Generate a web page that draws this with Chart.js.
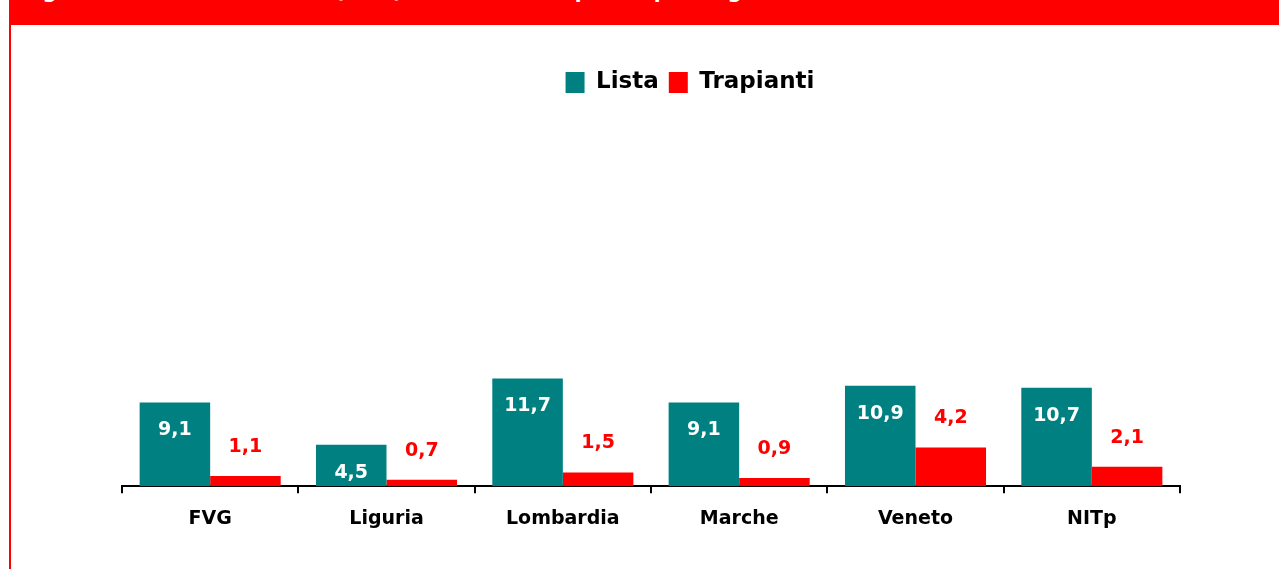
<!DOCTYPE html>
<html>
<head>
<meta charset="utf-8">
<script src="https://cdn.jsdelivr.net/npm/chart.js@4.4.1/dist/chart.umd.min.js"></script>
<style>
  html, body { margin: 0; padding: 0; background: #fff; }
  body { width: 1279px; height: 569px; position: relative; overflow: hidden; font-family: "DejaVu Sans", Verdana, sans-serif; }
  #banner { position: absolute; left: 9px; top: 0; width: 1270px; height: 25px; background: #ff0000; overflow: hidden; z-index: 2; }
  #banner span { position: absolute; left: 13px; top: -19px; color: #fff; font-weight: bold; font-size: 20px; line-height: 20px; white-space: nowrap; }
  #leftLine { position: absolute; left: 9px; top: 0; width: 2px; height: 569px; background: #ff0000; z-index: 2; }
  #wrap { position: absolute; left: 0; top: 0; width: 1279px; height: 569px; }
</style>
</head>
<body>
<div id="banner"><span>Figura 1: Tassi di iscrizione (PMP) in lista e di trapianto per Regione</span></div>
<div id="leftLine"></div>
<div id="wrap"><canvas id="chart"></canvas></div>
<script>
const regions = ['FVG', 'Liguria', 'Lombardia', 'Marche', 'Veneto', 'NITp'];
const lista = [9.1, 4.5, 11.7, 9.1, 10.9, 10.7];
const trapianti = [1.1, 0.7, 1.5, 0.9, 4.2, 2.1];

const TEAL = '#008080';
const RED = '#ff0000';
const FONT = '"DejaVu Sans", Verdana, sans-serif';

// value labels: white inside the teal bars, red above the red bars
const valueLabels = {
  id: 'valueLabels',
  afterDatasetsDraw(chart) {
    const ctx = chart.ctx;
    ctx.save();
    ctx.font = 'bold 19px ' + FONT;
    ctx.textAlign = 'center';
    ctx.textBaseline = 'middle';
    chart.data.datasets.forEach(function (ds, i) {
      chart.getDatasetMeta(i).data.forEach(function (bar, j) {
        const txt = ds.data[j].toFixed(1).replace('.', ',');
        if (i === 0) {
          ctx.fillStyle = '#fff';
          ctx.fillText(txt, bar.x, bar.y + 28);
        } else {
          ctx.fillStyle = RED;
          ctx.fillText(txt, bar.x, bar.y - 29);
        }
      });
    });
    ctx.restore();
  }
};

// a bit more room under the legend
const legendGap = {
  id: 'legendGap',
  beforeInit(chart) {
    const fit = chart.legend.fit;
    chart.legend.fit = function () {
      fit.bind(chart.legend)();
      this.height += 14;
    };
  }
};

new Chart(document.getElementById('chart'), {
  type: 'bar',
  data: {
    labels: regions,
    datasets: [
      { label: 'Lista', data: lista, backgroundColor: TEAL, categoryPercentage: 0.8, barPercentage: 1.0 },
      { label: 'Trapianti', data: trapianti, backgroundColor: RED, categoryPercentage: 0.8, barPercentage: 1.0 }
    ]
  },
  options: {
    responsive: true,
    maintainAspectRatio: false,
    animation: false,
    layout: { padding: { left: 122, right: 21, top: 61, bottom: 25 } },
    plugins: {
      legend: {
        position: 'top',
        labels: {
          boxWidth: 19, boxHeight: 21, padding: 10,
          color: '#000',
          font: { family: FONT, size: 23, weight: 'bold' }
        }
      },
      tooltip: { enabled: false }
    },
    scales: {
      x: {
        grid: { offset: true, drawOnChartArea: false, drawTicks: true, tickLength: 7, color: '#000', lineWidth: 2 },
        border: { display: true, color: '#000', width: 2 },
        ticks: { color: '#000', padding: 14, font: { family: FONT, size: 19, weight: 'bold' } }
      },
      y: {
        position: 'right',
        min: 0, max: 40,
        grid: { display: false },
        border: { display: false },
        ticks: { display: false },
        afterFit(scale) { scale.width = 78; }
      }
    }
  },
  plugins: [valueLabels, legendGap]
});
</script>
</body>
</html>
